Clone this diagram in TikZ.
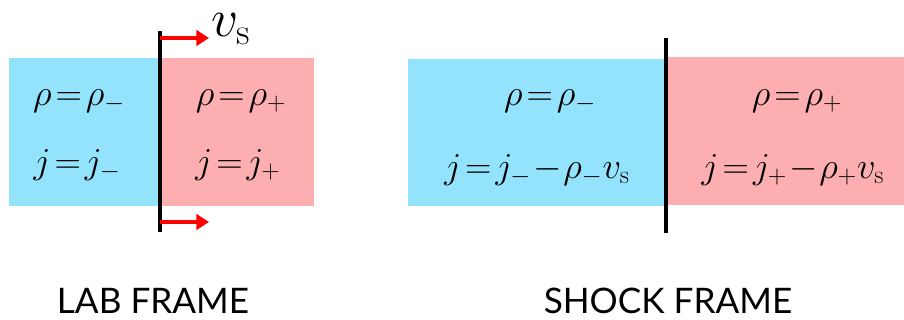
\documentclass[tikz,border=0pt]{standalone}
\usepackage{fix-cm}
\usepackage{fontspec}
\usepackage{tikz}
\usetikzlibrary{arrows.meta, positioning, calc}
\newfontfamily\framefont{Lato}
\definecolor{upblue}{RGB}{147,227,253}
\definecolor{downpink}{RGB}{253,174,176}
\tikzset{
    region/.style={rectangle, draw=none, inner sep=0pt},
    eqlabel/.style={font=\fontsize{26}{31}\selectfont, inner sep=0pt},
    framelabel/.style={font=\framefont\fontsize{25}{30}\selectfont, inner sep=0pt},
    shockline/.style={line width=2.4pt, color=black},
    velarrow/.style={line width=2.8pt, color=red, -{Triangle[length=9pt, width=11pt]}}
}
\begin{document}
\begin{tikzpicture}[x=0.025cm, y=-0.025cm]
    \useasboundingbox (0,0) rectangle (904,320);

    % lab frame
    \fill[upblue] (9,58) rectangle (160,206);
    \fill[downpink] (160,58) rectangle (314,206);
    \coordinate (labtop) at (160,31);
    \coordinate (labbot) at (160,232);
    \draw[shockline] (labtop) -- (labbot);
    \coordinate (arrA) at (160,38);
    \coordinate (arrAend) at (209,38);
    \coordinate (arrB) at (160,222);
    \coordinate (arrBend) at (209,222);
    \draw[velarrow] (arrA) -- (arrAend);
    \draw[velarrow] (arrB) -- (arrBend);
    \node[eqlabel, font=\fontsize{38}{44}\selectfont, anchor=west] (vs) at (211,29) {$v_{\mathrm{s}}$};

    \node[eqlabel] (lrho) at (79,101) {$\rho\!=\!\rho_-$};
    \node[eqlabel] (lj) at (77,165) {$j\!=\!j_-$};
    \node[eqlabel] (rrho) at (241,101) {$\rho\!=\!\rho_+$};
    \node[eqlabel] (rj) at (238,165) {$j\!=\!j_+$};

    % shock frame
    \fill[upblue] (408,59) rectangle (666,206);
    \fill[downpink] (666,57) rectangle (904,205);
    \coordinate (shtop) at (666,38);
    \coordinate (shbot) at (666,233);
    \draw[shockline] (shtop) -- (shbot);

    \node[eqlabel] (srho1) at (550,101) {$\rho\!=\!\rho_-$};
    \node[eqlabel] (sj1) at (537,170) {$j\!=\!j_-\!-\!\rho_-v_{\mathrm{s}}$};
    \node[eqlabel] (srho2) at (797,101) {$\rho\!=\!\rho_+$};
    \node[eqlabel] (sj2) at (793,170) {$j\!=\!j_+\!-\!\rho_+v_{\mathrm{s}}$};

    \node[framelabel] (lab) at (153,301) {LAB FRAME};
    \node[framelabel] (shock) at (668,301) {SHOCK FRAME};
\end{tikzpicture}
\end{document}
